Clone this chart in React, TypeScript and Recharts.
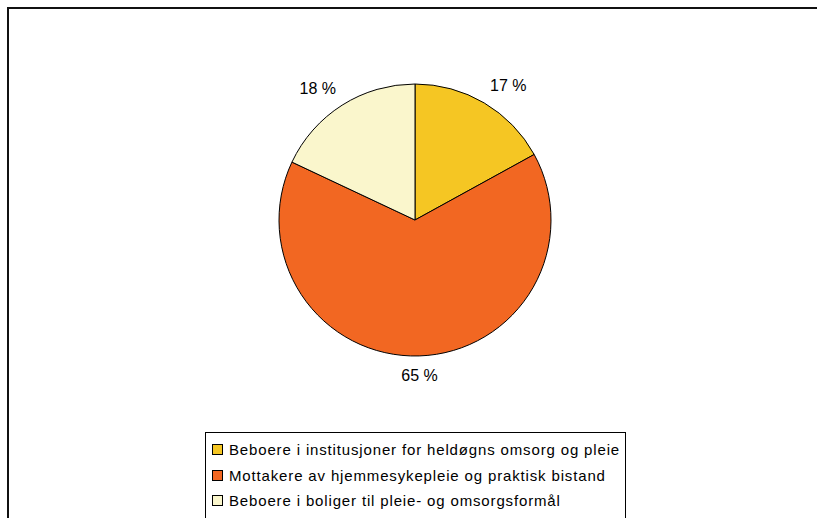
import { Legend, Pie, PieChart } from 'recharts';

const categories = [
  'Beboere i institusjoner for heldøgns omsorg og pleie',
  'Mottakere av hjemmesykepleie og praktisk bistand',
  'Beboere i boliger til pleie- og omsorgsformål',
];
const shares = [17, 65, 18];
const colors = ['#f5c623', '#f26722', '#faf6cc'];

const data = categories.map((name, i) => ({ name, value: shares[i], fill: colors[i] }));

const RADIAN = Math.PI / 180;

// label box sits just outside the rim, shifted sideways by half its width
function renderLabel(props: any) {
  const { cx, cy, midAngle, outerRadius, value } = props;
  const c = Math.cos(-midAngle * RADIAN);
  const s = Math.sin(-midAngle * RADIAN);
  const r = outerRadius + 8;
  const x = cx + r * c + (Math.abs(c) > 0.1 ? Math.sign(c) * 20 : 0);
  const y = cy + r * s + 12 * s;
  return (
    <text x={x} y={y} textAnchor="middle" dominantBaseline="central" fill="#000" fontSize={16}>
      {`${value} %`}
    </text>
  );
}

function LegendBox() {
  return (
    <div
      style={{
        border: '1px solid #000',
        borderBottom: 'none',
        background: '#fff',
        padding: '4px 5px 10px 6px',
        fontSize: 15,
        letterSpacing: 0.85,
        lineHeight: '25.5px',
        color: '#000',
      }}
    >
      {data.map((d) => (
        <div key={d.name} style={{ display: 'flex', alignItems: 'center', whiteSpace: 'nowrap' }}>
          <span
            style={{
              display: 'inline-block',
              width: 9,
              height: 9,
              background: d.fill,
              border: '1px solid #000',
              marginRight: 6,
            }}
          />
          {d.name}
        </div>
      ))}
    </div>
  );
}

export default function App() {
  return (
    <div
      style={{
        position: 'absolute',
        left: 0,
        top: 0,
        width: 817,
        height: 518,
        overflow: 'hidden',
        background: '#fff',
        fontFamily: '"Liberation Sans", Arial, sans-serif',
      }}
    >
      <div
        style={{
          position: 'absolute',
          left: 7,
          top: 7,
          width: 820,
          height: 520,
          borderTop: '2px solid #111',
          borderLeft: '2px solid #111',
        }}
      />
      <div style={{ position: 'absolute', left: 0, top: 0 }}>
        <PieChart width={817} height={518} margin={{ top: 0, right: 0, bottom: 0, left: 0 }}>
          <Pie
            data={data}
            dataKey="value"
            nameKey="name"
            cx={415}
            cy={220}
            outerRadius={136}
            startAngle={90}
            endAngle={-270}
            stroke="#000"
            strokeWidth={1}
            label={renderLabel}
            labelLine={false}
            isAnimationActive={false}
          />
          <Legend
            content={<LegendBox />}
            wrapperStyle={{ position: 'absolute', left: 205, top: 432, width: 'auto', bottom: 'auto' }}
          />
        </PieChart>
      </div>
    </div>
  );
}
